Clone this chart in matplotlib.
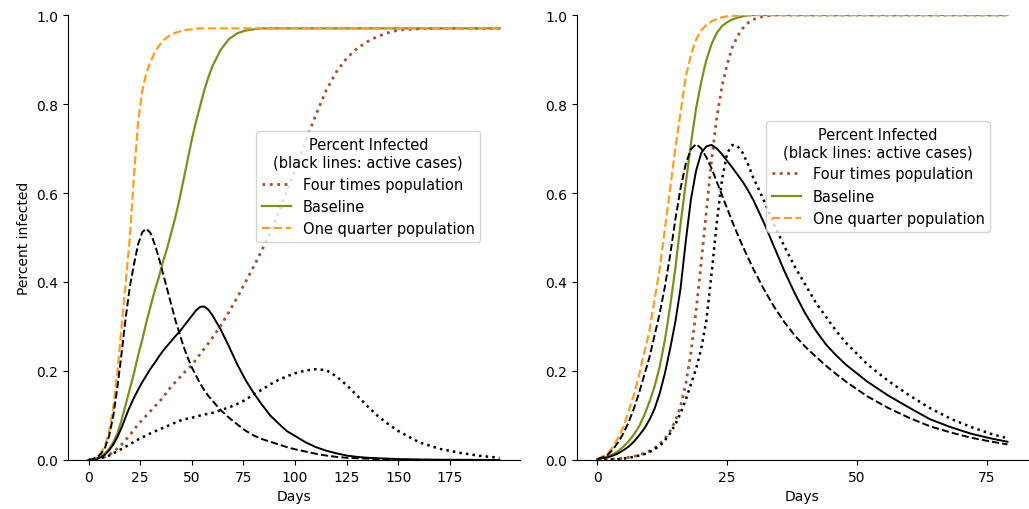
import matplotlib
matplotlib.use("Agg")
import matplotlib.pyplot as plt

# ---- left panel: days 0..199 ----
left_days = [0, 2, 4, 6, 8, 10, 12, 14, 16, 18, 20, 22, 24, 26, 28, 30, 32, 34, 36, 38,
             40, 42, 44, 46, 48, 50, 52, 54, 56, 58, 60,
             64, 68, 72, 76, 80, 84, 88, 92, 96, 100,
             105, 110, 115, 120, 125, 130, 135, 140, 145, 150,
             160, 170, 180, 190, 199]

left_quarter_total = [0.0, 0.002, 0.006, 0.016, 0.033, 0.065, 0.12, 0.2, 0.3, 0.4, 0.5,
                      0.64, 0.76, 0.83, 0.87, 0.895, 0.915, 0.93, 0.942, 0.95, 0.956,
                      0.96, 0.963, 0.966, 0.967, 0.968, 0.969, 0.97, 0.97, 0.97, 0.97,
                      0.97, 0.97, 0.97, 0.97, 0.97, 0.97, 0.97, 0.97, 0.97, 0.97,
                      0.97, 0.97, 0.97, 0.97, 0.97, 0.97, 0.97, 0.97, 0.97, 0.97,
                      0.97, 0.97, 0.97, 0.97, 0.97]
left_quarter_active = [0.0, 0.002, 0.006, 0.014, 0.028, 0.055, 0.1, 0.165, 0.24, 0.32, 0.39,
                       0.44, 0.485, 0.512, 0.52, 0.51, 0.485, 0.455, 0.42, 0.385, 0.35,
                       0.315, 0.285, 0.255, 0.23, 0.208, 0.19, 0.172, 0.157, 0.144, 0.133,
                       0.112, 0.095, 0.08, 0.066, 0.055, 0.047, 0.041, 0.035, 0.029, 0.024,
                       0.019, 0.014, 0.01, 0.007, 0.005, 0.004, 0.003, 0.002, 0.0015, 0.001,
                       0.0005, 0.0003, 0.0002, 0.0001, 0.0]
left_base_total = [0.0, 0.001, 0.004, 0.008, 0.015, 0.025, 0.04, 0.06, 0.09, 0.125, 0.16,
                   0.195, 0.235, 0.27, 0.31, 0.345, 0.38, 0.41, 0.445, 0.475, 0.51,
                   0.545, 0.585, 0.63, 0.675, 0.72, 0.76, 0.795, 0.83, 0.86, 0.885,
                   0.922, 0.946, 0.959, 0.965, 0.968, 0.97, 0.97, 0.97, 0.97, 0.97,
                   0.97, 0.97, 0.97, 0.97, 0.97, 0.97, 0.97, 0.97, 0.97, 0.97,
                   0.97, 0.97, 0.97, 0.97, 0.97]
left_base_active = [0.0, 0.001, 0.003, 0.006, 0.012, 0.022, 0.035, 0.052, 0.073, 0.097, 0.12,
                    0.14, 0.158, 0.175, 0.19, 0.205, 0.218, 0.232, 0.245, 0.256, 0.267,
                    0.278, 0.288, 0.3, 0.312, 0.324, 0.336, 0.344, 0.345, 0.338, 0.325,
                    0.293, 0.255, 0.215, 0.18, 0.15, 0.124, 0.1, 0.082, 0.065, 0.054,
                    0.04, 0.029, 0.021, 0.015, 0.01, 0.007, 0.005, 0.004, 0.003, 0.002,
                    0.001, 0.0005, 0.0003, 0.0001, 0.0]
left_four_total = [0.0, 0.0005, 0.002, 0.004, 0.007, 0.012, 0.018, 0.026, 0.035, 0.045, 0.056,
                   0.068, 0.08, 0.09, 0.1, 0.11, 0.12, 0.13, 0.14, 0.153, 0.165,
                   0.175, 0.185, 0.195, 0.204, 0.213, 0.225, 0.238, 0.25, 0.262, 0.275,
                   0.302, 0.333, 0.365, 0.4, 0.435, 0.472, 0.51, 0.555, 0.605, 0.65,
                   0.715, 0.775, 0.83, 0.872, 0.903, 0.925, 0.94, 0.952, 0.96, 0.966,
                   0.969, 0.97, 0.97, 0.97, 0.97]
left_four_active = [0.0, 0.0005, 0.002, 0.004, 0.007, 0.01, 0.015, 0.02, 0.025, 0.03, 0.035,
                    0.041, 0.046, 0.051, 0.055, 0.06, 0.064, 0.068, 0.072, 0.076, 0.08,
                    0.084, 0.088, 0.091, 0.093, 0.095, 0.097, 0.1, 0.102, 0.104, 0.106,
                    0.112, 0.118, 0.126, 0.135, 0.148, 0.158, 0.17, 0.18, 0.188, 0.195,
                    0.201, 0.204, 0.202, 0.188, 0.168, 0.145, 0.121, 0.099, 0.081, 0.065,
                    0.04, 0.025, 0.016, 0.009, 0.005]

# ---- right panel: days 0..79 ----
right_days = [0, 1, 2, 3, 4, 5, 6, 7, 8, 9, 10, 11, 12, 13, 14, 15, 16, 17, 18, 19, 20,
              21, 22, 23, 24, 25, 26, 27, 28, 29, 30,
              32, 34, 36, 38, 40, 42, 44, 46, 48, 52, 56, 60, 64, 68, 72, 76, 79]

right_quarter_total = [0.002, 0.008, 0.015, 0.03, 0.05, 0.075, 0.11, 0.145, 0.19, 0.24, 0.29,
                       0.36, 0.43, 0.52, 0.61, 0.70, 0.78, 0.86, 0.91, 0.945, 0.965,
                       0.978, 0.986, 0.991, 0.995, 0.997, 0.998, 0.999, 1.0, 1.0, 1.0,
                       1.0, 1.0, 1.0, 1.0, 1.0, 1.0, 1.0, 1.0, 1.0, 1.0, 1.0, 1.0, 1.0,
                       1.0, 1.0, 1.0, 1.0]
right_quarter_active = [0.002, 0.006, 0.012, 0.024, 0.04, 0.06, 0.085, 0.115, 0.15, 0.19, 0.23,
                        0.28, 0.33, 0.39, 0.46, 0.54, 0.61, 0.665, 0.698, 0.71, 0.70,
                        0.68, 0.655, 0.625, 0.595, 0.565, 0.535, 0.507, 0.48, 0.455, 0.43,
                        0.385, 0.345, 0.31, 0.28, 0.255, 0.233, 0.212, 0.193, 0.175,
                        0.143, 0.117, 0.095, 0.076, 0.062, 0.05, 0.041, 0.035]
right_base_total = [0.002, 0.005, 0.008, 0.013, 0.02, 0.03, 0.042, 0.057, 0.075, 0.1, 0.13,
                    0.165, 0.21, 0.27, 0.345, 0.43, 0.53, 0.62, 0.71, 0.79, 0.85,
                    0.9, 0.935, 0.96, 0.975, 0.984, 0.99, 0.994, 0.997, 0.999, 1.0,
                    1.0, 1.0, 1.0, 1.0, 1.0, 1.0, 1.0, 1.0, 1.0, 1.0, 1.0, 1.0, 1.0,
                    1.0, 1.0, 1.0, 1.0]
right_base_active = [0.002, 0.004, 0.006, 0.01, 0.015, 0.022, 0.03, 0.041, 0.055, 0.07, 0.09,
                     0.115, 0.15, 0.195, 0.25, 0.31, 0.385, 0.49, 0.585, 0.65, 0.69,
                     0.705, 0.708, 0.70, 0.687, 0.672, 0.657, 0.641, 0.625, 0.606, 0.585,
                     0.535, 0.48, 0.425, 0.375, 0.33, 0.292, 0.26, 0.235, 0.213,
                     0.176, 0.145, 0.118, 0.092, 0.074, 0.059, 0.048, 0.041]
right_four_total = [0.0, 0.0005, 0.001, 0.002, 0.003, 0.004, 0.006, 0.008, 0.011, 0.015, 0.02,
                    0.027, 0.036, 0.048, 0.065, 0.088, 0.12, 0.17, 0.24, 0.335, 0.445,
                    0.56, 0.675, 0.77, 0.84, 0.89, 0.928, 0.953, 0.97, 0.982, 0.99,
                    0.997, 1.0, 1.0, 1.0, 1.0, 1.0, 1.0, 1.0, 1.0, 1.0, 1.0, 1.0, 1.0,
                    1.0, 1.0, 1.0, 1.0]
right_four_active = [0.0, 0.0005, 0.001, 0.0015, 0.002, 0.003, 0.005, 0.007, 0.01, 0.013, 0.018,
                     0.024, 0.032, 0.044, 0.06, 0.08, 0.105, 0.135, 0.17, 0.205, 0.25,
                     0.315, 0.42, 0.535, 0.63, 0.69, 0.708, 0.705, 0.69, 0.665, 0.635,
                     0.585, 0.53, 0.48, 0.435, 0.395, 0.355, 0.322, 0.29, 0.262,
                     0.215, 0.178, 0.146, 0.117, 0.093, 0.074, 0.058, 0.049]

scenario_labels = ["Four times population", "Baseline", "One quarter population"]
scenario_colors = ["sienna", "#7f8f1c", "#ff9f1a"]
scenario_styles = [":", "-", "--"]
scenario_widths = [2.0, 1.6, 1.6]

panels = [
    (left_days,
     [left_four_total, left_base_total, left_quarter_total],
     [left_four_active, left_base_active, left_quarter_active],
     [0, 25, 50, 75, 100, 125, 150, 175], (0.416, 0.739)),
    (right_days,
     [right_four_total, right_base_total, right_quarter_total],
     [right_four_active, right_base_active, right_quarter_active],
     [0, 25, 50, 75], (0.419, 0.762)),
]

fig = plt.figure(figsize=(10.29, 5.10), dpi=100)
ax_left = fig.add_axes([0.0661, 0.0961, 0.4393, 0.8725])
ax_right = fig.add_axes([0.5607, 0.0961, 0.4383, 0.8725])

for ax, (days, totals, actives, xticks, anchor) in zip([ax_left, ax_right], panels):
    for total, active, label, color, ls, lw in zip(totals, actives, scenario_labels,
                                                   scenario_colors, scenario_styles,
                                                   scenario_widths):
        ax.plot(days, total, color=color, linestyle=ls, linewidth=lw, label=label)
        ax.plot(days, active, color="black", linestyle=ls, linewidth=lw - 0.2)
    ax.set_ylim(0, 1.0)
    ax.set_xticks(xticks)
    ax.set_xlabel("Days", fontsize=10)
    ax.tick_params(labelsize=10)
    ax.spines["top"].set_visible(False)
    ax.spines["right"].set_visible(False)
    leg = ax.legend(title="Percent Infected\n(black lines: active cases)",
                    loc="upper left", bbox_to_anchor=anchor, borderaxespad=0,
                    fontsize=10.5, title_fontsize=10.5)
    leg.get_title().set_multialignment("center")

ax_left.set_ylabel("Percent infected", fontsize=10)

fig.savefig("out.png", dpi=100)
